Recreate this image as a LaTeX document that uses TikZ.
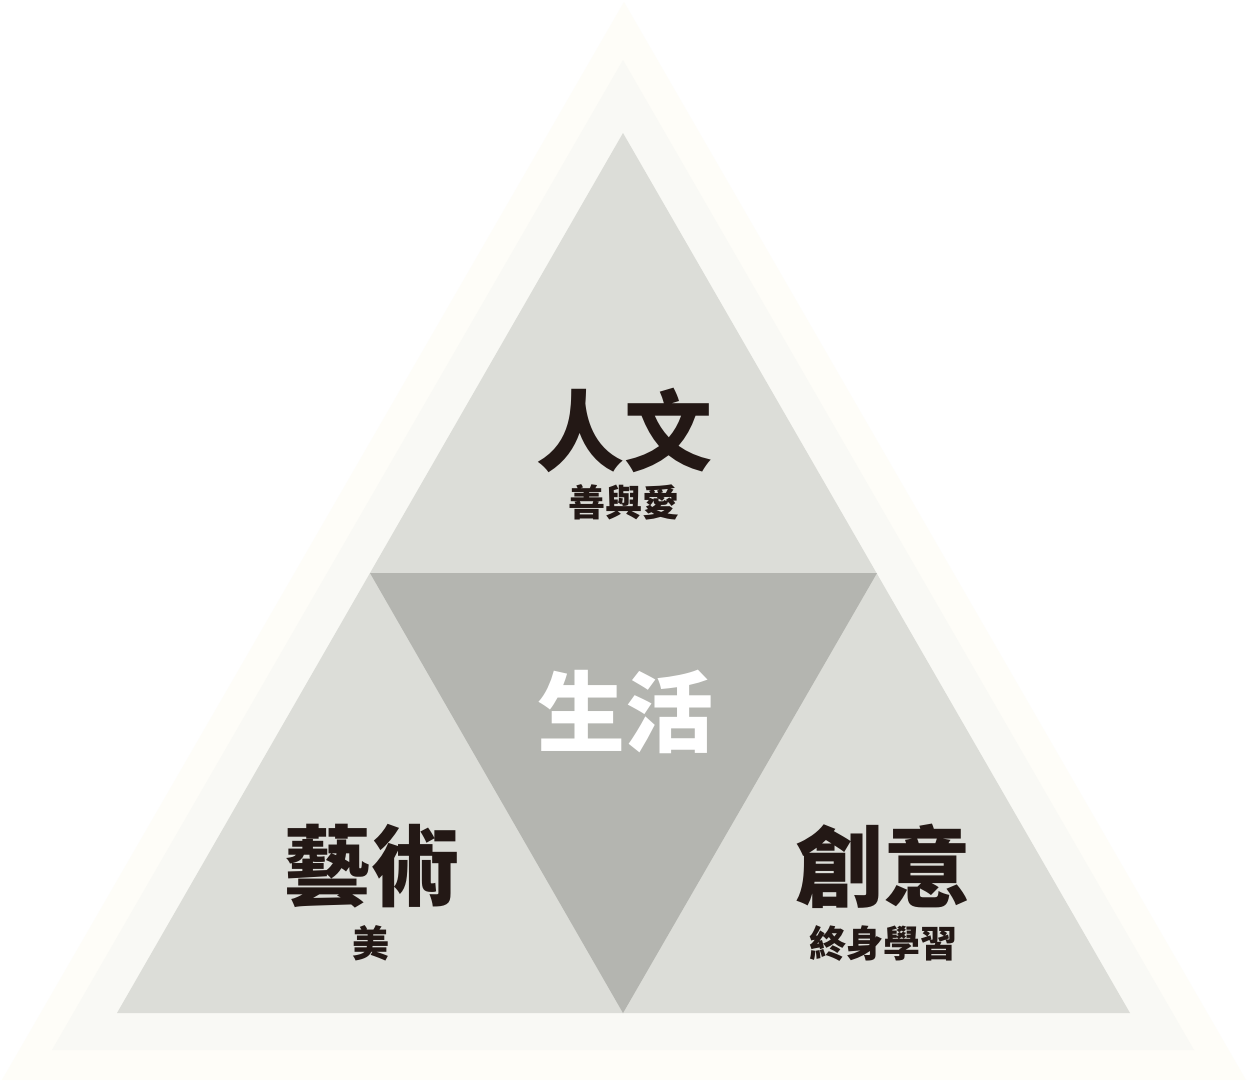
\documentclass[tikz,border=0pt]{standalone}
\usepackage{fontspec}
\newfontfamily\cjk{Noto Sans CJK TC}
\definecolor{outerc}{HTML}{FEFDF8}
\definecolor{midc}{HTML}{F9F9F5}
\definecolor{innerc}{HTML}{DCDDD8}
\definecolor{centerc}{HTML}{B4B5B0}
\definecolor{inkc}{HTML}{231815}
\begin{document}
\begin{tikzpicture}[x=1pt,y=-1pt,
  big/.style={font=\cjk\bfseries\fontsize{88}{88}\selectfont, text=inkc, inner sep=0pt},
  small/.style={font=\cjk\bfseries\fontsize{37}{37}\selectfont, text=inkc, inner sep=0pt}]
\fill[white] (0,0) rectangle (1247,1080);
\useasboundingbox (0,0) rectangle (1247,1080);
\fill[outerc] (624,2) -- (1246,1080) -- (2,1080) -- cycle;
\fill[midc] (623,60) -- (1194,1050) -- (52,1050) -- cycle;
\fill[innerc] (623,133) -- (1130,1013) -- (117,1013) -- cycle;
\fill[centerc] (370,573) -- (877,573) -- (623,1013) -- cycle;
\node[big] (renwen) at (624,430) {人文};
\node[small] (renwensub) at (624,502) {善與愛};
\node[big, text=white] (shenghuo) at (625,712) {生活};
\node[big] (yishu) at (371,866) {藝術};
\node[small] (yishusub) at (371,943) {美};
\node[big] (chuangyi) at (883,866) {創意};
\node[small] (chuangyisub) at (883,943) {終身學習};
\end{tikzpicture}
\end{document}
